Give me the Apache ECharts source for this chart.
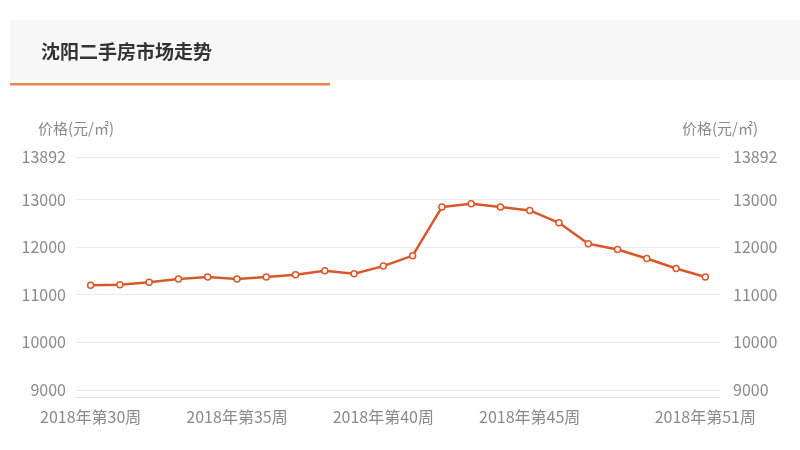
<!DOCTYPE html>
<html>
<head>
<meta charset="utf-8">
<script src="https://cdn.jsdelivr.net/npm/echarts@6/dist/echarts.min.js"></script>
<style>
html,body{margin:0;padding:0;background:#fff;}
#chart{width:800px;height:450px;}
</style>
</head>
<body>
<div id="chart"></div>
<script>
var titleText = '沈阳二手房市场走势';
var unitName = '价格(元/㎡)';
var weeks = ['2018年第30周','2018年第31周','2018年第32周','2018年第33周','2018年第34周','2018年第35周','2018年第36周','2018年第37周','2018年第38周','2018年第39周','2018年第40周','2018年第41周','2018年第42周','2018年第43周','2018年第44周','2018年第45周','2018年第46周','2018年第47周','2018年第48周','2018年第49周','2018年第50周','2018年第51周'];
var prices = [11200,11210,11260,11330,11370,11330,11370,11420,11500,11440,11600,11820,12840,12910,12840,12770,12510,12070,11950,11760,11550,11370];
var yTicks = [9000,10000,11000,12000,13000,13892];
var shownLabelIdx = [0,5,10,15,21];
var yMin = 8850, yMax = 13892;

var chart = echarts.init(document.getElementById('chart'));
var font = '"Noto Sans CJK SC", "Noto Sans", sans-serif';
function yAxis(pos){
  return {
    type:'value', position:pos, min:yMin, max:yMax,
    name: unitName, nameLocation:'end', nameGap:21,
    nameTextStyle:{color:'#8a8a8a', fontSize:15, fontFamily:font, align:'center'},
    axisLine:{show:false}, axisTick:{show:false, customValues:yTicks},
    axisLabel:{customValues:yTicks, color:'#8a8a8a', fontSize:16, fontFamily:font, margin:pos==='left'?10:13,
      formatter:function(v){return String(v);}},
    splitLine:{show:true, lineStyle:{color:'#ececec', width:1}}
  };
}
chart.setOption({
  animation:false,
  backgroundColor:'#fff',
  title:{text:titleText, left:36, top:37, textStyle:{fontSize:19, fontWeight:'bold', color:'#333', fontFamily:font}},
  graphic:[
    {type:'rect', z:-10, shape:{x:10,y:20,width:790,height:60}, style:{fill:'#f7f7f7'}},
    {type:'rect', z:-5, shape:{x:10,y:83,width:320,height:2.5}, style:{fill:'#e8864e'}}
  ],
  grid:{left:76, right:80, top:157, bottom:53, containLabel:false},
  xAxis:{
    type:'category', data:weeks, boundaryGap:true,
    axisLine:{show:true, lineStyle:{color:'#e2e2e2'}},
    axisTick:{show:false},
    axisLabel:{color:'#8a8a8a', fontSize:16, fontFamily:font, margin:12,
      interval:function(i){return shownLabelIdx.indexOf(i)>=0;}},
    splitLine:{show:false}
  },
  yAxis:[yAxis('left'), yAxis('right')],
  series:[{
    type:'line', data:prices, yAxisIndex:0,
    symbol:'circle', symbolSize:6, showAllSymbol:true,
    lineStyle:{color:'#d9582b', width:2.5},
    itemStyle:{color:'#fff', borderColor:'#d9582b', borderWidth:1.5}
  }]
});
</script>
</body>
</html>
